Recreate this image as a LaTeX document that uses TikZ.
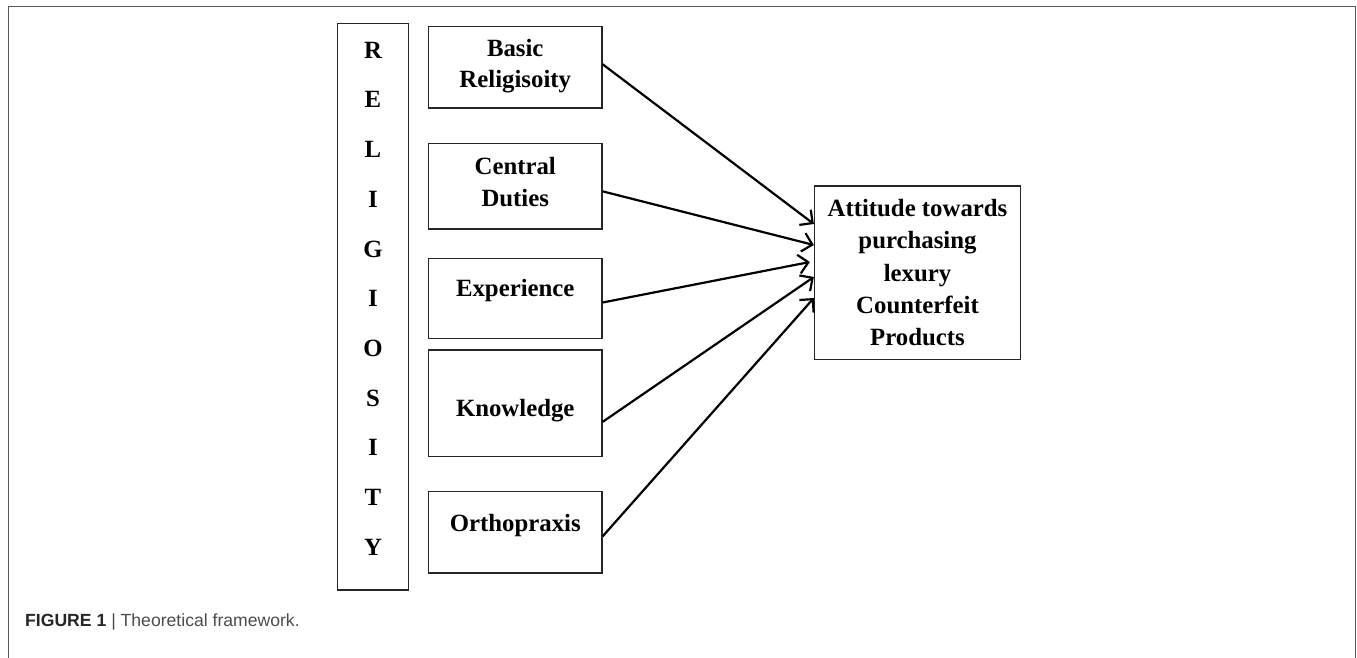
\documentclass[tikz,border=0pt]{standalone}
\usepackage{fontspec}
\setmainfont{Liberation Serif}
\newfontfamily\capfont{Liberation Sans}
\usetikzlibrary{arrows.meta}
\begin{document}
\begin{tikzpicture}[x=1pt,y=-1pt,
  box/.style={draw=black!85,line width=1.3pt,inner sep=0pt,minimum width=173.5pt},
  lbl/.style={anchor=base,inner sep=0pt,font=\fontsize{24.8}{29}\selectfont\bfseries},
  link/.style={line width=2.2pt,-{Straight Barb[length=9.5pt,width=19pt,line width=2.2pt]}},
  frame/.style={draw=black!65,line width=1.4pt}]
\useasboundingbox (0,0) rectangle (1357,658);
\draw[frame] (8.3,658) -- (8.3,6.5) -- (1355.6,6.5) -- (1355.6,658);
% Religiosity column
\node[box,minimum width=71pt,minimum height=566.5pt] (rel) at (373,306.75) {};
\foreach \c [count=\i from 0] in {R,E,L,I,G,I,O,S,I,T,Y}
  \node[lbl] (rl\i) at (373,{58.3+49.7*\i}) {\c};
% dimension boxes
\node[box,minimum height=81.5pt] (b1) at (515.25,67.25) {};
\node[box,minimum height=85.3pt] (b2) at (515.25,186.35) {};
\node[box,minimum height=80.4pt] (b3) at (515.25,298.5) {};
\node[box,minimum height=106.7pt] (b4) at (515.25,403.35) {};
\node[box,minimum height=81.3pt] (b5) at (515.25,532.35) {};
\node[lbl] (t1a) at (515.25,56.7) {Basic};
\node[lbl] (t1b) at (515.25,87.7) {Religisoity};
\node[lbl] (t2a) at (515.25,175) {Central};
\node[lbl] (t2b) at (515.25,206.7) {Duties};
\node[lbl] (t3) at (515.25,296.7) {Experience};
\node[lbl] (t4) at (515.25,416.7) {Knowledge};
\node[lbl] (t5) at (515.25,531) {Orthopraxis};
% target
\node[box,minimum width=206pt,minimum height=173.5pt] (tg) at (917.5,272.75) {};
\node[lbl] (g1) at (917.5,216.7) {Attitude towards};
\node[lbl] (g2) at (917.5,248.9) {purchasing};
\node[lbl] (g3) at (917.5,281.1) {lexury};
\node[lbl] (g4) at (917.5,313.3) {Counterfeit};
\node[lbl] (g5) at (917.5,345.5) {Products};
% connectors
\draw[link] ([yshift=3pt]b1.east) -- ([yshift=48.75pt]tg.west);
\draw[link] ([yshift=-5pt]b2.east) -- ([yshift=27.75pt]tg.west);
\draw[link] ([yshift=-4pt]b3.east) -- ([xshift=-4pt,yshift=10.75pt]tg.west);
\draw[link] ([yshift=-18.5pt]b4.east) -- ([yshift=-4.25pt]tg.west);
\draw[link] ([yshift=-4pt]b5.east) -- ([yshift=-25.25pt]tg.west);
% caption
\node[anchor=base west,inner sep=0pt,font=\capfont\fontsize{17.6}{20}\selectfont,text=black!70] (cap) at (25,626)
  {\textcolor{black!85}{\textbf{FIGURE 1}} | Theoretical framework.};
\end{tikzpicture}
\end{document}
